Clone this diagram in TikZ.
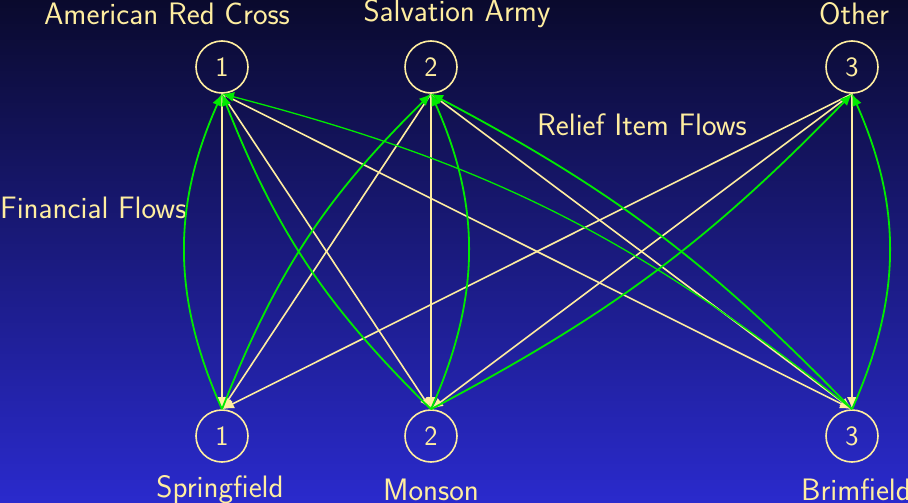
\documentclass[tikz,border=0pt]{standalone}
\usepackage{fontspec}
\usetikzlibrary{arrows.meta}
\definecolor{cream}{RGB}{255,238,160}
\definecolor{flowgreen}{RGB}{0,235,0}
\definecolor{bgtop}{RGB}{10,10,45}
\definecolor{bgbot}{RGB}{42,42,205}
\newcommand{\lblfont}{\sffamily\fontsize{31}{36}\selectfont}
\newcommand{\numfont}{\sffamily\fontsize{28}{32}\selectfont}
\begin{document}
\begin{tikzpicture}[x=1pt,y=-1pt,
  netnode/.style={circle,draw=cream,line width=1.6pt,minimum size=52pt,inner sep=0pt,text=cream,font=\numfont},
  lbl/.style={text=cream,font=\lblfont,inner sep=0pt,anchor=base},
  relief/.style={draw=cream,line width=1.6pt,-{Latex[length=12pt,width=10pt]}},
  fin/.style={draw=flowgreen,line width=1.8pt,-{Latex[length=12pt,width=10pt]}}]
\shade[top color=bgtop,bottom color=bgbot] (0,0) rectangle (908,503);
\useasboundingbox (0,0) rectangle (908,503);
\node[netnode] (t1) at (222,67) {1};
\node[netnode] (t2) at (431,67) {2};
\node[netnode] (t3) at (852,67) {3};
\node[netnode] (b1) at (222,436) {1};
\node[netnode] (b2) at (431,436) {2};
\node[netnode] (b3) at (852,436) {3};
\node[lbl] (l1) at (167,25) {American Red Cross};
\node[lbl] (l2) at (457,22) {Salvation Army};
\node[lbl] (l3) at (854,25) {Other};
\node[lbl] (l4) at (220,497) {Springfield};
\node[lbl] (l5) at (431,500) {Monson};
\node[lbl] (l6) at (856,500) {Brimfield};
\node[lbl,anchor=base west] (ff) at (0,218) {Financial Flows};
\node[lbl] (rf) at (642,135) {Relief Item Flows};
% relief item flows
\foreach \s in {t1,t2,t3}{
  \foreach \d in {b1,b2,b3}{
    \draw[relief] (\s.south) -- (\d.north);
  }
}
% financial flows
\draw[fin] (b1.north) to[bend left=24] (t1.south);
\draw[fin] (b2.north) to[bend right=24] (t2.south);
\draw[fin] (b3.north) to[bend right=24] (t3.south);
\draw[fin] (b1.north) to[bend left=12] (t2.south);
\draw[fin] (b2.north) to[bend left=12] (t1.south);
\draw[fin] (b2.north) to[bend right=9] (t3.south);
\draw[fin] (b3.north) to[bend right=9] (t2.south);
\draw[fin,line width=1.3pt] (b3.north) to[bend right=12] (t1.south);
\end{tikzpicture}
\end{document}
